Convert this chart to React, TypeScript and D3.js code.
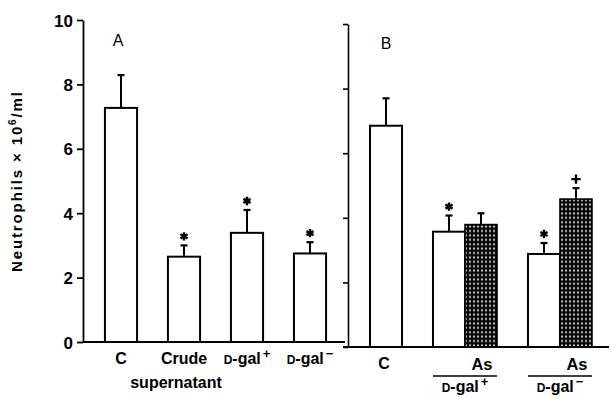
import React, { useRef, useEffect } from 'react';
import * as d3 from 'd3';

// panel A: control and supernatant fractions
const catsA = ['C', 'Crude', 'D-gal+', 'D-gal-'];
const meanA = [7.27, 2.65, 3.39, 2.75];
const errA = [1.02, 0.35, 0.71, 0.35];
const starA = [false, true, true, true];

// panel B: fractions without / with As
const groupsB = ['C', 'D-gal+', 'D-gal-'];
const meanB = [6.85, 3.57, 2.88];
const errB = [0.85, 0.5, 0.34];
const starB = [false, true, true];
const meanAs = [null, 3.79, 4.58];
const errAs = [null, 0.35, 0.34];
const markAs = ['', '', '+'];

const yTicks = [0, 2, 4, 6, 8, 10];

const font = 'Liberation Sans, Arial, sans-serif';

// writes "D-gal+" as small-cap D and raised sign
function galLabel(sel, label) {
  if (!label.startsWith('D-gal')) {
    sel.text(label);
    return;
  }
  const sign = label.endsWith('+') ? '+' : '\u2212';
  sel.append('tspan').attr('font-size', 12).text('D');
  sel.append('tspan').text('-gal');
  sel.append('tspan').attr('font-size', 13).attr('dy', -6).attr('dx', 2).text(sign);
}

function App() {
  const svgRef = useRef(null);

  useEffect(() => {
    const svg = d3.select(svgRef.current);
    svg.selectAll('*').remove();

    const pat = svg.append('defs').append('pattern')
      .attr('id', 'dots').attr('width', 4).attr('height', 4.4)
      .attr('patternUnits', 'userSpaceOnUse');
    pat.append('rect').attr('width', 4).attr('height', 4.4).attr('fill', '#0a0a0a');
    pat.append('ellipse').attr('cx', 2).attr('cy', 2.2).attr('rx', 0.8).attr('ry', 1.2).attr('fill', '#fff');

    const star = d3.symbol(d3.symbolAsterisk, 48)();
    const plus = d3.symbol(d3.symbolPlus, 30)();

    const errBar = (g, cx, y0, y1) => {
      g.append('line').attr('x1', cx).attr('x2', cx).attr('y1', y0).attr('y2', y1)
        .attr('stroke', '#000').attr('stroke-width', 2);
      g.append('line').attr('x1', cx - 3.5).attr('x2', cx + 3.5).attr('y1', y1).attr('y2', y1)
        .attr('stroke', '#000').attr('stroke-width', 2.2);
    };
    const mark = (g, path, cx, y) => {
      g.append('path').attr('d', path).attr('transform', `translate(${cx},${y})`)
        .attr('fill', 'none').attr('stroke', '#000').attr('stroke-width', 2.4);
    };

    // ---------- panel A ----------
    const yA = d3.scaleLinear().domain([0, 10]).range([342, 20]);
    const xA = d3.scaleBand().domain(catsA).range([89.5, 341.5]).paddingInner(0.49).paddingOuter(0.245);
    const bwA = xA.bandwidth();

    const axA = svg.append('g').attr('transform', 'translate(83,0)')
      .call(d3.axisLeft(yA).tickValues(yTicks).tickSize(6).tickSizeOuter(0).tickPadding(4));
    axA.attr('font-size', 17).attr('font-family', font).attr('font-weight', 'bold');
    axA.selectAll('path, line').attr('stroke-width', 1.8);
    axA.selectAll('text').attr('dy', '0.36em');

    svg.append('line').attr('x1', 83).attr('x2', 345).attr('y1', yA(0)).attr('y2', yA(0))
      .attr('stroke', '#000').attr('stroke-width', 1.8);

    const gA = svg.append('g');
    catsA.forEach((c, i) => {
      const x = xA(c);
      const cx = x + bwA / 2;
      gA.append('rect').attr('x', x).attr('y', yA(meanA[i])).attr('width', bwA)
        .attr('height', yA(0) - yA(meanA[i])).attr('fill', '#fff')
        .attr('stroke', '#000').attr('stroke-width', 2);
      const top = yA(meanA[i] + errA[i]);
      errBar(gA, cx, yA(meanA[i]), top);
      if (starA[i]) mark(gA, star, cx, top - 9);
      const t = svg.append('text').attr('x', cx).attr('y', 364).attr('text-anchor', 'middle')
        .attr('font-family', font).attr('font-weight', 'bold').attr('font-size', 16);
      galLabel(t, c);
    });
    svg.append('text').attr('x', xA('Crude') + bwA / 2 - 8).attr('y', 388).attr('text-anchor', 'middle')
      .attr('font-family', font).attr('font-weight', 'bold').attr('font-size', 16).text('supernatant');
    svg.append('text').attr('x', xA('C') + bwA / 2 - 3).attr('y', 46).attr('text-anchor', 'middle')
      .attr('font-family', font).attr('font-size', 16).text('A');

    // ---------- panel B ----------
    const yB = d3.scaleLinear().domain([0, 10]).range([347, 24]);
    const xB = d3.scaleBand().domain(groupsB).range([338, 592]).paddingInner(0.326).paddingOuter(0);
    const sub = d3.scaleBand().domain(['sup', 'As']).range([0, xB.bandwidth()]);
    const bwB = sub.bandwidth();

    const axB = svg.append('g').attr('transform', 'translate(348,0)')
      .call(d3.axisLeft(yB).tickValues(yTicks).tickSize(5).tickSizeOuter(0).tickFormat(() => ''));
    axB.selectAll('path, line').attr('stroke-width', 1.6);

    svg.append('line').attr('x1', 343).attr('x2', 609).attr('y1', yB(0)).attr('y2', yB(0))
      .attr('stroke', '#000').attr('stroke-width', 1.8);

    const gB = svg.append('g');
    groupsB.forEach((g, i) => {
      const single = meanAs[i] == null;
      const x = xB(g) + (single ? sub('As') : sub('sup'));
      const cx = x + bwB / 2;
      gB.append('rect').attr('x', x).attr('y', yB(meanB[i])).attr('width', bwB)
        .attr('height', yB(0) - yB(meanB[i])).attr('fill', '#fff')
        .attr('stroke', '#000').attr('stroke-width', 2);
      const top = yB(meanB[i] + errB[i]);
      errBar(gB, cx, yB(meanB[i]), top);
      if (starB[i]) mark(gB, star, cx, top - 9);

      if (single) {
        svg.append('text').attr('x', cx - 2).attr('y', 369).attr('text-anchor', 'middle')
          .attr('font-family', font).attr('font-weight', 'bold').attr('font-size', 16).text(g);
        return;
      }
      const xa = xB(g) + sub('As');
      const cxa = xa + bwB / 2;
      gB.append('rect').attr('x', xa).attr('y', yB(meanAs[i])).attr('width', bwB)
        .attr('height', yB(0) - yB(meanAs[i])).attr('fill', 'url(#dots)')
        .attr('stroke', '#000').attr('stroke-width', 1.6);
      const topA = yB(meanAs[i] + errAs[i]);
      errBar(gB, cxa, yB(meanAs[i]), topA);
      if (markAs[i] === '+') mark(gB, plus, cxa, topA - 9);

      svg.append('text').attr('x', cxa + 1).attr('y', 369.5).attr('text-anchor', 'middle')
        .attr('font-family', font).attr('font-weight', 'bold').attr('font-size', 16.5).text('As');
      svg.append('line').attr('x1', xB(g)).attr('x2', xB(g) + xB.bandwidth())
        .attr('y1', 376).attr('y2', 376).attr('stroke', '#000').attr('stroke-width', 1.4);
      const t = svg.append('text').attr('x', xB(g) + xB.bandwidth() / 2).attr('y', 392)
        .attr('text-anchor', 'middle').attr('font-family', font).attr('font-weight', 'bold').attr('font-size', 16);
      galLabel(t, g);
    });
    svg.append('text').attr('x', xB('C') + sub('As') + bwB / 2).attr('y', 49).attr('text-anchor', 'middle')
      .attr('font-family', font).attr('font-size', 16).text('B');

    // y axis title
    const yt = svg.append('text').attr('transform', 'translate(22,182) rotate(-90)')
      .attr('text-anchor', 'middle').attr('font-family', font).attr('font-weight', 'bold')
      .attr('font-size', 15).attr('textLength', 180).attr('lengthAdjust', 'spacing');
    yt.append('tspan').text('Neutrophils  \u00d7  10');
    yt.append('tspan').attr('font-size', 10).attr('dy', -6).text('6');
    yt.append('tspan').attr('dy', 6).text('/ml');
  }, []);

  return (
    <svg ref={svgRef} width={611} height={399}
      style={{ position: 'absolute', left: 0, top: 0, background: '#fff' }} />
  );
}

export default App;
